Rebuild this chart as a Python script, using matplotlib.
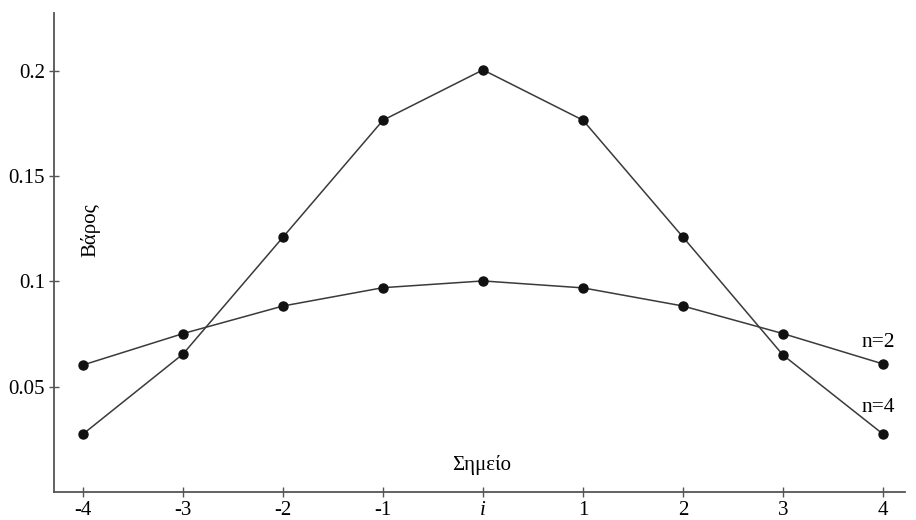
import matplotlib
matplotlib.use('Agg')
import matplotlib.pyplot as plt

# weights per point
points = [-4, -3, -2, -1, 0, 1, 2, 3, 4]
xlabels = ['-4', '-3', '-2', '-1', 'i', '1', '2', '3', '4']
w_n2 = [0.0603, 0.0752, 0.0883, 0.0970, 0.1002, 0.0969, 0.0883, 0.0752, 0.0608]
w_n4 = [0.0275, 0.0655, 0.1210, 0.1765, 0.2004, 0.1765, 0.1210, 0.0650, 0.0275]
yticks = [0.05, 0.1, 0.15, 0.2]
ylabels = ['0.05', '0.1', '0.15', '0.2']

plt.rcParams['font.family'] = ['Liberation Serif', 'DejaVu Serif']

fig = plt.figure(figsize=(9.16, 5.2), dpi=100)
ax = fig.add_axes([54/916, 28/520, (905-54)/916, (492-13)/520])

line_col = '#3a3a3a'
ax.plot(points, w_n4, '-', color=line_col, lw=1.1, marker='o', ms=6.5,
        mfc='#111111', mec='#111111')
ax.plot(points, w_n2, '-', color=line_col, lw=1.1, marker='o', ms=6.5,
        mfc='#111111', mec='#111111')

ax.set_xlim(-4.29, 4.22)
ax.set_ylim(0, 0.2274)

ax.spines['top'].set_visible(False)
ax.spines['right'].set_visible(False)
for s in ['left', 'bottom']:
    ax.spines[s].set_color('#555555')
    ax.spines[s].set_linewidth(1.3)

ax.set_xticks(points)
ax.set_xticklabels(xlabels)
ax.get_xticklabels()[4].set_style('italic')
ax.set_yticks(yticks)
ax.set_yticklabels(ylabels)
ax.tick_params(direction='inout', length=7, width=1, color='#555555',
               labelsize=15, pad=3)

ax.text(3.95, 0.0712, 'n=2', fontsize=15.5, ha='center', va='center')
ax.text(3.95, 0.0399, 'n=4', fontsize=15.5, ha='center', va='center')
ax.text(-3.93, 0.1244, 'Βάρος', fontsize=15, rotation=90, ha='center', va='center')
ax.text(-0.01, 0.0128, 'Σημείο', fontsize=15, ha='center', va='center')

fig.savefig('out.png', dpi=100)
